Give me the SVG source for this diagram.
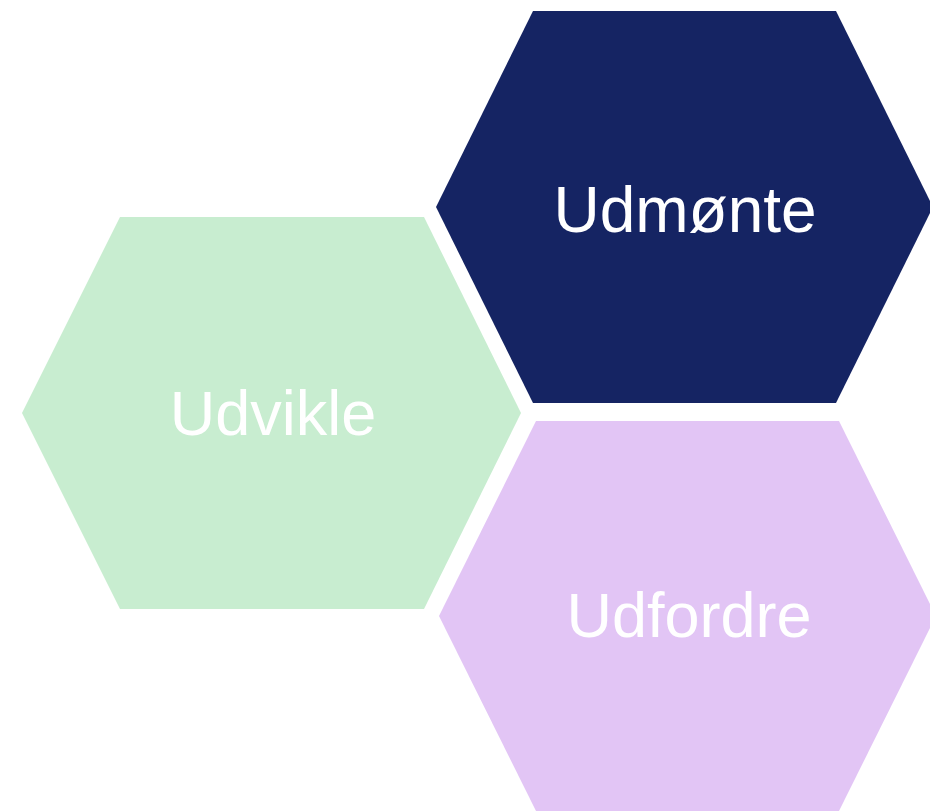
<svg xmlns="http://www.w3.org/2000/svg" width="930" height="811" viewBox="0 0 930 811">
<style>
.lbl{font-family:"Liberation Sans",Arial,sans-serif;font-size:63px;fill:#ffffff;text-anchor:middle}
</style>
<rect width="930" height="811" fill="#ffffff"/>
<g id="udmonte">
<polygon points="533,11 836,11 933,207 836,403 533,403 436,207" fill="#152463"/>
<text class="lbl" x="685" y="232" style="font-size:64px">Udmønte</text>
</g>
<g id="udvikle">
<polygon points="120,217 424,217 521,413 424,609 120,609 22,413" fill="#c8edd0"/>
<text class="lbl" x="273" y="435">Udvikle</text>
</g>
<g id="udfordre">
<polygon points="536,421 839,421 936,616 839,811 536,811 439,616" fill="#e2c5f5"/>
<text class="lbl" x="689" y="637">Udfordre</text>
</g>
<g id="connectors"></g>
</svg>
